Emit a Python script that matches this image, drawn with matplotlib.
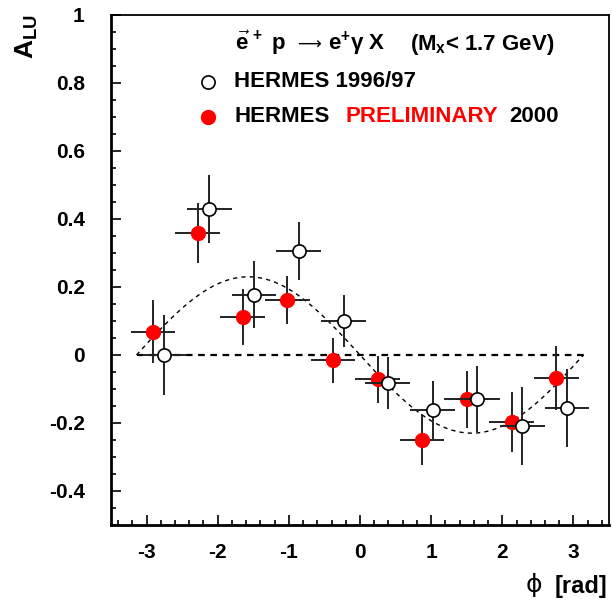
import numpy as np
import matplotlib
matplotlib.use("Agg")
import matplotlib.pyplot as plt
from matplotlib.ticker import MultipleLocator

plt.rcParams['font.family'] = ['Liberation Sans', 'DejaVu Sans']
plt.rcParams['font.weight'] = 'bold'
plt.rcParams['mathtext.fontset'] = 'custom'
plt.rcParams['mathtext.rm'] = 'Liberation Sans:bold'
plt.rcParams['mathtext.it'] = 'Liberation Sans:bold'
plt.rcParams['mathtext.bf'] = 'Liberation Sans:bold'

# HERMES 1996/97 (open circles)
phi_9697 = [-2.75, -2.12, -1.49, -0.86, -0.23, 0.39, 1.02, 1.65, 2.28, 2.91]
alu_9697 = [0.0, 0.43, 0.177, 0.305, 0.10, -0.083, -0.162, -0.13, -0.21, -0.157]
err_9697 = [0.118, 0.10, 0.098, 0.085, 0.077, 0.077, 0.085, 0.098, 0.115, 0.115]

# HERMES preliminary 2000 (red filled)
phi_2000 = [-2.91, -2.28, -1.65, -1.02, -0.38, 0.25, 0.87, 1.50, 2.13, 2.76]
alu_2000 = [0.068, 0.358, 0.112, 0.162, -0.015, -0.072, -0.25, -0.13, -0.198, -0.068]
err_2000 = [0.093, 0.088, 0.083, 0.07, 0.066, 0.069, 0.075, 0.084, 0.088, 0.094]

bin_half = np.pi / 10
amp = -0.23

fig = plt.figure(figsize=(6.12, 6.01), dpi=100)
ax = fig.add_axes([0.1814, 0.1265, 0.8137, 0.8486])

# fit curve and zero line
phi = np.linspace(-np.pi, np.pi, 300)
ax.plot(phi, amp * np.sin(phi), color='black', lw=1.0, dashes=(3, 3))
ax.plot([-np.pi, np.pi], [0, 0], color='black', lw=1.6, dashes=(3, 2.5))

ax.errorbar(phi_2000, alu_2000, yerr=err_2000, xerr=bin_half, fmt='o',
            color='black', ecolor='#222222', elinewidth=1.4, capsize=0,
            mfc='red', mec='red', ms=10, zorder=3)
ax.errorbar(phi_9697, alu_9697, yerr=err_9697, xerr=bin_half, fmt='o',
            color='black', ecolor='#222222', elinewidth=1.4, capsize=0,
            mfc='white', mec='black', mew=1.2, ms=9.5, zorder=4)

ax.set_xlim(-3.5, 3.5)
ax.set_ylim(-0.5, 1.0)
ax.xaxis.set_major_locator(MultipleLocator(1))
ax.xaxis.set_minor_locator(MultipleLocator(0.2))
ax.yaxis.set_major_locator(MultipleLocator(0.2))
ax.yaxis.set_minor_locator(MultipleLocator(0.05))
ax.tick_params(which='both', direction='in', top=False, right=False, width=1.2)
ax.tick_params(which='major', length=7, labelsize=15)
ax.tick_params(axis='y', which='major', pad=19)
ax.tick_params(axis='x', which='major', pad=13)
ax.tick_params(which='minor', length=3.5)
ax.set_yticks([-0.4, -0.2, 0, 0.2, 0.4, 0.6, 0.8, 1.0])
ax.set_yticklabels(['-0.4', '-0.2', '0', '0.2', '0.4', '0.6', '0.8', '1'])
ax.set_xticks([-3, -2, -1, 0, 1, 2, 3])
ax.set_xticklabels(['-3', '-2', '-1', '0', '1', '2', '3'])
for s in ['left', 'bottom']:
    ax.spines[s].set_linewidth(2)
for s in ['top', 'right']:
    ax.spines[s].set_linewidth(1.3)

# header and legend
fs = 16
yh = 0.896
ax.text(-1.758, yh, r"$\vec{e}^{\,+}$ p", fontsize=fs, va='baseline', ha='left')
ax.text(-0.72, yh + 0.018, "⟶", fontsize=12, va='center', ha='center',
        family='DejaVu Sans', weight='normal')
ax.text(-0.453, yh, r"e$^{+}$γ X", fontsize=fs, va='baseline', ha='left')
ax.text(0.697, yh, r"($M_{x}$< 1.7 GeV)", fontsize=fs, va='baseline', ha='left')
ax.plot([-2.13], [0.803], 'o', mfc='white', mec='black', mew=1.2, ms=9.5)
ax.plot([-2.13], [0.70], 'o', mfc='red', mec='red', ms=10)
ax.text(-1.77, 0.803, "HERMES 1996/97", fontsize=fs, va='center', ha='left')
ax.text(-1.77, 0.70, "HERMES", fontsize=fs, va='center', ha='left')
ax.text(-0.20, 0.70, "PRELIMINARY", fontsize=fs, va='center', ha='left', color='red')
ax.text(2.10, 0.70, "2000", fontsize=fs, va='center', ha='left')

fig.text(27 / 612, 1 - 37 / 601, r"$A_{LU}$", fontsize=19, rotation=90,
         ha='center', va='center')
fig.text(607 / 612, 1 - 587 / 601, "[rad]", fontsize=17, ha='right', va='center')
fig.text(534 / 612, 1 - 585 / 601, "ϕ", fontsize=18, ha='center', va='center',
         family='DejaVu Sans', weight='normal')

fig.savefig("out.png", dpi=100)
